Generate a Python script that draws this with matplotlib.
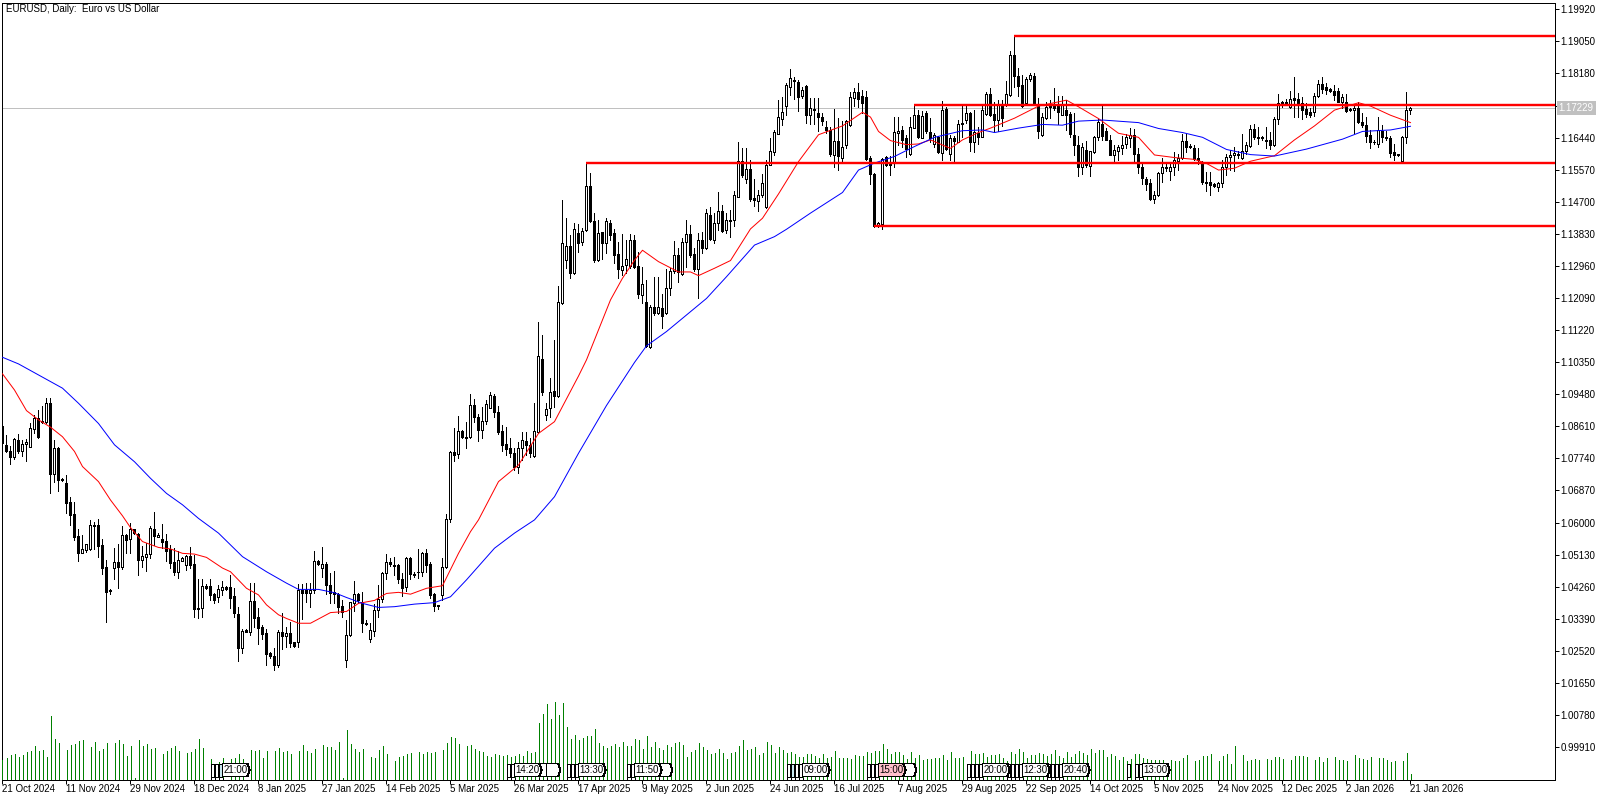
"""
EURUSD daily chart, MT5 look
"""
import matplotlib
matplotlib.use("Agg")
import matplotlib.pyplot as plt
from matplotlib.patches import Polygon
from matplotlib.transforms import blended_transform_factory
import numpy as np

plt.rcParams["font.family"] = ["Liberation Sans", "DejaVu Sans"]

# prices are stored x 10000
opens = [
    10859,10807,10791,10774,10820,10790,10809,10803,10850,10880,
    10873,10871,10921,10730,10800,10715,10703,10652,10620,10560,
    10515,10522,10524,10587,10590,10536,10475,10413,10474,10490,
    10477,10562,10551,10578,10566,10495,10504,10510,10579,10558,
    10552,10547,10525,10490,10463,10493,10480,10506,10484,10365,
    10364,10424,10424,10403,10395,10414,10421,10422,10397,10347,
    10257,10305,10298,10384,10339,10312,10296,10241,10234,10210,
    10298,10289,10296,10271,10273,10414,10414,10406,10414,10492,
    10473,10484,10427,10409,10403,10371,10223,10291,10379,10403,
    10382,10325,10279,10301,10359,10388,10459,10490,10481,10481,
    10442,10421,10500,10457,10461,10461,10513,10484,10402,10372,
    10399,10477,10606,10789,10783,10846,10826,10828,10915,10883,
    10847,10874,10909,10941,10897,10846,10809,10799,10786,10749,
    10799,10818,10807,10778,10844,11040,10888,10909,10953,10941,
    11193,11310,11348,11276,11385,11360,11392,11512,11416,11310,
    11386,11358,11410,11384,11326,11283,11297,11294,11365,11294,
    11216,11196,11073,11182,11167,11180,11167,11233,11280,11323,
    11272,11359,11381,11326,11286,11364,11344,11434,11365,11410,
    11444,11392,11417,11419,11483,11579,11530,11557,11479,11472,
    11488,11454,11570,11605,11654,11695,11729,11782,11801,11795,
    11755,11784,11706,11721,11709,11699,11671,11664,11597,11634,
    11587,11624,11677,11752,11767,11755,11754,11587,11545,11403,
    11409,11590,11578,11578,11657,11664,11642,11599,11670,11706,
    11643,11709,11658,11626,11646,11601,11722,11599,11642,11632,
    11684,11691,11709,11632,11657,11646,11707,11762,11708,11691,
    11731,11733,11758,11868,11811,11786,11738,11802,11811,11735,
    11650,11697,11735,11735,11728,11706,11718,11707,11649,11623,
    11562,11609,11567,11605,11644,11680,11661,11638,11597,11606,
    11615,11626,11642,11651,11598,11564,11531,11519,11477,11486,
    11546,11560,11552,11562,11579,11589,11633,11621,11615,11587,
    11573,11523,11523,11517,11510,11521,11564,11591,11595,11597,
    11589,11607,11620,11666,11645,11645,11637,11637,11624,11693,
    11739,11740,11727,11751,11747,11738,11721,11712,11712,11756,
    11789,11780,11774,11769,11771,11740,11741,11721,11718,11724,
    11686,11677,11650,11632,11627,11662,11645,11642,11604,11598,
    11579,11644,11717,
]
highs = [
    10859,10835,10805,10826,10838,10821,10824,10868,10888,10902,
    10914,10935,10935,10820,10803,10719,10726,10665,10652,10578,
    10563,10538,10603,10599,10606,10551,10495,10416,10527,10538,
    10586,10566,10596,10580,10568,10533,10540,10587,10625,10568,
    10593,10566,10536,10527,10520,10504,10509,10531,10509,10444,
    10444,10429,10443,10406,10427,10439,10424,10454,10418,10368,
    10307,10307,10432,10433,10364,10318,10308,10246,10255,10305,
    10350,10312,10326,10273,10430,10430,10432,10432,10519,10495,
    10529,10490,10459,10465,10404,10386,10332,10382,10438,10404,
    10409,10332,10325,10375,10427,10461,10510,10500,10504,10484,
    10459,10504,10504,10461,10524,10518,10524,10490,10404,10372,
    10500,10619,10792,10853,10886,10848,10871,10946,10932,10892,
    10910,10930,10951,10945,10914,10862,10856,10826,10800,10817,
    10844,10844,10826,10921,11143,11107,10921,10989,11093,11240,
    11473,11424,11378,11410,11409,11398,11575,11546,11437,11419,
    11387,11424,11419,11396,11360,11381,11365,11380,11378,11333,
    11291,11256,11188,11264,11265,11217,11286,11288,11361,11342,
    11370,11419,11406,11342,11384,11387,11449,11455,11437,11495,
    11460,11437,11446,11498,11631,11614,11614,11582,11530,11501,
    11544,11582,11641,11664,11745,11754,11791,11829,11809,11800,
    11782,11786,11750,11750,11750,11709,11687,11673,11720,11696,
    11687,11691,11766,11777,11791,11773,11770,11594,11546,11415,
    11587,11594,11592,11699,11699,11676,11651,11699,11732,11719,
    11716,11716,11696,11655,11648,11744,11726,11650,11648,11691,
    11728,11735,11714,11719,11673,11732,11768,11777,11741,11746,
    11746,11796,11880,11920,11832,11814,11809,11818,11820,11750,
    11709,11741,11746,11777,11755,11757,11745,11714,11709,11647,
    11629,11635,11608,11647,11693,11729,11668,11650,11623,11623,
    11647,11653,11668,11666,11614,11573,11537,11532,11499,11550,
    11589,11573,11578,11605,11599,11653,11653,11627,11623,11614,
    11579,11550,11550,11519,11523,11582,11600,11609,11618,11608,
    11653,11632,11677,11680,11673,11647,11671,11659,11698,11762,
    11743,11747,11771,11807,11765,11754,11738,11723,11765,11801,
    11807,11792,11777,11786,11777,11763,11763,11723,11733,11741,
    11709,11700,11664,11636,11700,11677,11661,11647,11626,11600,
    11647,11767,11727,
]
lows = [
    10810,10789,10757,10769,10787,10778,10765,10803,10841,10827,
    10866,10866,10678,10707,10683,10709,10624,10590,10549,10491,
    10513,10518,10522,10524,10502,10457,10327,10403,10443,10419,
    10470,10513,10513,10566,10454,10475,10466,10499,10536,10557,
    10527,10493,10473,10453,10446,10491,10468,10474,10339,10338,
    10339,10416,10385,10377,10382,10400,10414,10365,10339,10219,
    10243,10298,10291,10314,10267,10279,10209,10228,10196,10205,
    10254,10258,10259,10259,10259,10334,10382,10368,10404,10481,
    10450,10403,10377,10377,10352,10341,10205,10288,10355,10377,
    10300,10317,10273,10287,10341,10382,10442,10479,10454,10432,
    10397,10412,10442,10448,10445,10452,10461,10391,10355,10363,
    10386,10472,10597,10765,10771,10826,10800,10826,10871,10819,
    10827,10865,10907,10883,10838,10792,10780,10776,10740,10731,
    10767,10780,10774,10776,10841,10944,10876,10885,10912,10939,
    11191,11290,11261,11272,11333,11351,11390,11413,11305,11308,
    11313,11329,11365,11301,11261,11270,11274,11290,11290,11206,
    11194,11075,11071,11162,11164,11126,11164,11215,11274,11252,
    11270,11292,11319,11281,11208,11329,11341,11365,11356,11392,
    11387,11383,11372,11404,11481,11537,11521,11472,11457,11444,
    11483,11451,11569,11596,11653,11677,11704,11759,11747,11716,
    11750,11682,11680,11680,11662,11678,11655,11592,11563,11554,
    11578,11614,11675,11728,11726,11709,11583,11517,11400,11401,
    11394,11566,11541,11563,11623,11619,11590,11596,11668,11642,
    11642,11657,11632,11619,11601,11581,11610,11581,11578,11631,
    11646,11684,11608,11605,11625,11644,11705,11702,11660,11660,
    11676,11728,11757,11782,11755,11726,11735,11796,11732,11642,
    11648,11693,11696,11719,11680,11704,11665,11646,11596,11539,
    11543,11562,11539,11602,11637,11638,11637,11596,11578,11582,
    11598,11614,11617,11573,11546,11517,11501,11473,11466,11484,
    11523,11553,11528,11542,11555,11586,11604,11614,11582,11571,
    11517,11499,11488,11510,11499,11510,11541,11555,11553,11589,
    11586,11600,11618,11640,11625,11637,11614,11612,11621,11680,
    11727,11733,11724,11700,11700,11695,11698,11698,11702,11753,
    11765,11762,11766,11745,11740,11723,11713,11716,11656,11682,
    11673,11632,11616,11626,11618,11630,11636,11591,11582,11593,
    11578,11629,11707,
]
closes = [
    10812,10792,10776,10824,10792,10809,10815,10853,10880,10830,
    10869,10921,10730,10799,10712,10713,10651,10618,10558,10515,
    10524,10538,10590,10589,10533,10473,10409,10410,10489,10476,
    10562,10549,10578,10568,10495,10506,10511,10581,10560,10564,
    10544,10520,10488,10462,10495,10500,10505,10481,10361,10361,
    10423,10420,10401,10385,10416,10421,10415,10392,10350,10257,
    10302,10300,10383,10338,10311,10294,10240,10234,10210,10298,
    10288,10296,10270,10261,10414,10406,10406,10414,10492,10484,
    10484,10427,10404,10403,10368,10353,10291,10381,10403,10385,
    10323,10322,10304,10359,10388,10460,10489,10485,10479,10442,
    10419,10500,10456,10453,10462,10513,10482,10400,10370,10370,
    10477,10606,10789,10780,10845,10828,10830,10915,10885,10847,
    10872,10918,10943,10897,10844,10807,10798,10787,10749,10799,
    10821,10807,10785,10845,11049,10951,10905,10951,10942,11195,
    11356,11348,11276,11396,11358,11388,11512,11416,11310,11384,
    11358,11416,11378,11324,11285,11294,11312,11365,11292,11218,
    11245,11077,11183,11167,11182,11159,11233,11280,11323,11278,
    11359,11380,11324,11285,11364,11344,11437,11367,11412,11444,
    11390,11418,11419,11487,11579,11541,11557,11476,11473,11488,
    11519,11570,11608,11659,11698,11713,11785,11804,11798,11754,
    11772,11706,11723,11717,11698,11687,11664,11599,11635,11594,
    11617,11689,11753,11767,11748,11738,11586,11543,11403,11412,
    11586,11569,11569,11658,11662,11637,11612,11673,11704,11646,
    11701,11660,11642,11649,11603,11719,11612,11642,11635,11680,
    11679,11709,11632,11659,11645,11719,11762,11705,11691,11731,
    11696,11762,11868,11811,11784,11729,11802,11814,11734,11660,
    11699,11726,11726,11724,11713,11735,11704,11653,11622,11562,
    11617,11568,11606,11646,11685,11647,11638,11597,11609,11617,
    11622,11644,11651,11598,11562,11534,11517,11477,11486,11546,
    11564,11562,11563,11582,11588,11634,11617,11619,11584,11582,
    11523,11521,11514,11512,11521,11564,11591,11596,11602,11600,
    11608,11624,11666,11645,11643,11641,11634,11624,11693,11738,
    11736,11737,11749,11746,11738,11718,11707,11704,11756,11789,
    11774,11772,11769,11759,11741,11753,11716,11718,11724,11685,
    11677,11648,11632,11630,11665,11644,11641,11602,11597,11596,
    11645,11717,11723,
]
volumes = [
    60,66,73,76,67,73,82,85,100,85,
    88,67,190,121,109,0,88,103,106,115,
    118,0,97,112,85,91,109,0,109,118,
    106,70,100,4,118,100,106,91,94,0,
    76,85,94,100,85,0,79,82,91,121,
    94,0,61,48,53,64,0,61,64,76,
    61,0,88,85,88,64,85,0,85,94,
    82,85,76,0,85,103,85,79,91,0,
    103,97,97,89,112,6,148,106,91,82,
    91,0,67,64,88,100,76,0,55,67,
    70,76,79,0,82,76,82,79,82,0,
    88,109,127,124,106,0,100,103,91,85,
    82,70,67,76,73,70,73,67,70,76,
    70,85,79,82,169,196,226,181,232,193,
    229,157,121,133,118,124,130,130,151,109,
    100,94,100,106,97,112,100,100,121,118,
    91,130,97,112,94,88,103,97,109,112,
    103,67,82,88,109,97,88,76,79,91,
    79,61,79,82,100,118,88,91,97,73,
    79,112,103,79,97,88,79,82,76,67,
    67,76,76,70,64,76,64,67,85,64,
    64,64,61,73,71,70,82,79,85,86,
    106,91,76,82,82,73,61,82,64,73,
    58,61,61,66,64,73,58,82,64,64,
    67,48,85,76,76,79,67,73,73,76,
    64,55,82,76,91,82,64,73,73,79,
    76,70,76,88,70,64,82,67,76,85,
    79,73,91,79,88,88,67,76,70,58,
    67,55,61,76,76,64,61,58,58,58,
    58,48,58,55,55,64,73,0,55,58,
    70,70,76,0,55,70,76,46,100,0,
    73,55,58,61,58,0,61,58,67,67,
    61,0,58,70,70,70,67,0,58,67,
    52,64,0,67,58,58,55,0,73,64,
    61,58,67,0,64,64,58,52,55,0,
    55,79,16,
]

fast_bars = [0,3,6,9,12,15,18,20,24,27,30,32,35,39,42,45,48,51,55,57,61,64,66,69,71,74,
             77,82,86,89,93,96,99,102,106,110,114,117,119,124,129,134,138,144,146,152,155,
             158,160,164,169,172,174,178,182,187,190,194,199,204,210,215,217,219,222,226,
             229,232,235,237,240,244,247,253,259,266,269,274,279,284,288,293,298,301,304,
             308,312,318,323,328,333,339,342,347,352]
fast_ma = [11001,10957,10901,10876,10856,10830,10790,10749,10708,10658,10615,10583,10545,10529,
           10525,10513,10511,10502,10473,10463,10418,10400,10373,10346,10336,10323,
           10323,10352,10355,10377,10385,10404,10407,10402,10418,10425,10513,10572,10604,
           10708,10753,10839,10871,10995,11039,11202,11261,11310,11337,11306,11278,11278,
           11268,11288,11309,11395,11424,11490,11578,11651,11675,11712,11699,11660,11635,
           11624,11626,11637,11623,11614,11637,11657,11669,11696,11729,11745,11727,11695,
           11655,11644,11596,11589,11584,11573,11555,11560,11579,11594,11637,11675,11718,
           11738,11729,11704,11684]
slow_bars = [0,4,9,15,19,24,28,33,37,41,45,49,54,60,66,71,74,79,83,86,90,94,98,103,108,112,
             116,123,128,133,138,144,151,158,161,166,171,176,181,188,193,196,202,210,214,218,
             223,228,233,240,245,248,254,260,265,269,275,284,289,295,300,306,312,318,326,335,
             340,347,352]
slow_ma = [11046,11028,10998,10962,10921,10866,10808,10762,10717,10676,10645,10608,10568,10504,
           10463,10432,10415,10415,10406,10393,10377,10366,10368,10375,10379,10395,
           10441,10527,10568,10604,10667,10785,10915,11032,11077,11116,11161,11206,11265,
           11351,11374,11394,11438,11494,11555,11574,11592,11619,11644,11662,11664,11657,
           11669,11679,11677,11688,11691,11684,11668,11657,11644,11611,11597,11593,11612,
           11639,11660,11664,11674]

# horizontal levels: start bar, level
level_bars = [253, 228, 146, 218]
level_prices = [1.19205, 1.17320, 1.15750, 1.14040]
last_price = 1.17229

date_labels = ["21 Oct 2024", "11 Nov 2024", "29 Nov 2024", "18 Dec 2024", "8 Jan 2025",
               "27 Jan 2025", "14 Feb 2025", "5 Mar 2025", "26 Mar 2025", "17 Apr 2025",
               "9 May 2025", "2 Jun 2025", "24 Jun 2025", "16 Jul 2025", "7 Aug 2025",
               "29 Aug 2025", "22 Sep 2025", "14 Oct 2025", "5 Nov 2025", "24 Nov 2025",
               "12 Dec 2025", "2 Jan 2026", "21 Jan 2026"]

# calendar flags
flag_bars = [55, 128, 144, 158, 200, 219, 245, 255, 265, 285]
flag_times = ["21:00", "14:20", "13:30", "11:50", "09:00", "15:00", "20:00", "12:30", "20:40", "13:00"]
small_flags = [52, 53, 54, 126, 127, 141, 142, 143, 156, 157, 196, 197, 198, 199, 216, 217, 218,
               241, 242, 243, 244, 251, 252, 253, 254, 261, 262, 263, 264, 281, 283, 284]
tail_flags = [135, 137, 165, 226]

PX = 0.72  # 1 px in points at dpi 100
W, H = 1608, 800
fig = plt.figure(figsize=(W / 100, H / 100), dpi=100, facecolor="white")
ax = fig.add_axes([2.5 / W, 1 - 779.5 / H, (1555.5 - 2.5) / W, (779.5 - 2.5) / H])

for s in ax.spines.values():
    s.set_linewidth(PX)

x = np.arange(len(opens))
o = np.array(opens) / 1e4
h = np.array(highs) / 1e4
l = np.array(lows) / 1e4
c = np.array(closes) / 1e4

ax.set_xlim(0, 388.25)
ax.set_ylim(0.98982, 1.20105)

# last price line under the candles
ax.axhline(last_price, color="#c0c0c0", lw=PX, zorder=1)

ax.vlines(x, l, h, color="black", lw=PX, antialiased=False, zorder=2)
up = c >= o
ax.bar(x[up], (c - o)[up], bottom=o[up], width=0.5, facecolor="white", edgecolor="black",
       linewidth=PX, antialiased=False, zorder=3)
ax.bar(x[~up], (o - c)[~up], bottom=c[~up], width=0.5, facecolor="black", edgecolor="black",
       linewidth=PX, antialiased=False, zorder=3)

ax.plot(fast_bars, np.array(fast_ma) / 1e4, color="#ff0000", lw=PX, zorder=4)
ax.plot(slow_bars, np.array(slow_ma) / 1e4, color="#0000ff", lw=PX, zorder=4)

for b, p in zip(level_bars, level_prices):
    ax.plot([b, 388.25], [p, p], color="#ff0000", lw=2.4 * PX, solid_capstyle="butt", zorder=5)

# volume on its own scale, sharing the bars
ax_v = ax.twinx()
ax_v.set_ylim(0, 777 * 3)
ax_v.set_yticks([])
ax_v.spines[:].set_visible(False)
ax_v.vlines(x, 0, volumes, color="#008000", lw=PX, antialiased=False, zorder=2)

# price axis, labels every 0.0087 (twinx moved the ticks to the left)
ticks = 1.1992 - np.arange(24) * 0.00872
tick_text = [f"{1.1992 - k * 0.0087:.5f}" for k in range(24)]
ax.yaxis.tick_right()
ax.set_yticks(ticks)
ax.set_yticklabels(tick_text)
ax.tick_params(axis="y", length=4 * PX, width=PX, pad=0.6, labelsize=7.0, colors="black")

# time axis
ax.set_xticks(np.arange(len(date_labels)) * 16)
ax.set_xticklabels(date_labels, ha="left")
ax.tick_params(axis="x", length=4 * PX, width=PX, pad=0.5, labelsize=7.0)

trans = blended_transform_factory(ax.transAxes, ax.transData)
ax.text(1.0021, last_price, f"{last_price:.5f}", transform=trans, color="white", fontsize=7.0,
        va="center", ha="left", clip_on=False, zorder=20,
        bbox=dict(boxstyle="square,pad=0.22", fc="#c0c0c0", ec="#c0c0c0", lw=0))

fig.text(6 / W, 1 - 8.5 / H, "EURUSD, Daily:  Euro vs US Dollar", fontsize=7.0, va="center", ha="left")


def flag(bar, width, text=None, fc="white", tip=0.6):
    bot, top = 9, 48
    mid = (bot + top) / 2
    pts = [(bar, bot), (bar + width - tip, bot), (bar + width, mid), (bar + width - tip, top), (bar, top)]
    ax_v.vlines(bar, 0, bot, color="black", lw=PX, linestyles=(0, (1, 1)), antialiased=False, zorder=3)
    ax_v.add_patch(Polygon(pts, closed=True, fc=fc, ec="black", lw=PX, antialiased=False, zorder=4))
    if text:
        ax_v.text(bar + width / 2 - 0.2, mid, text, ha="center", va="center", fontsize=7.0, zorder=5)


for b in tail_flags:
    flag(b - 1, 3.5)
for b in small_flags:
    flag(b, 0.8, fc="#c8e8f0" if b in (54, 197) else "white", tip=0)
for b, t in zip(flag_bars, flag_times):
    flag(b, 6.8, t, fc="#ffc0cb" if t == "15:00" else "white")

fig.savefig("out.png", dpi=100, facecolor="white")
